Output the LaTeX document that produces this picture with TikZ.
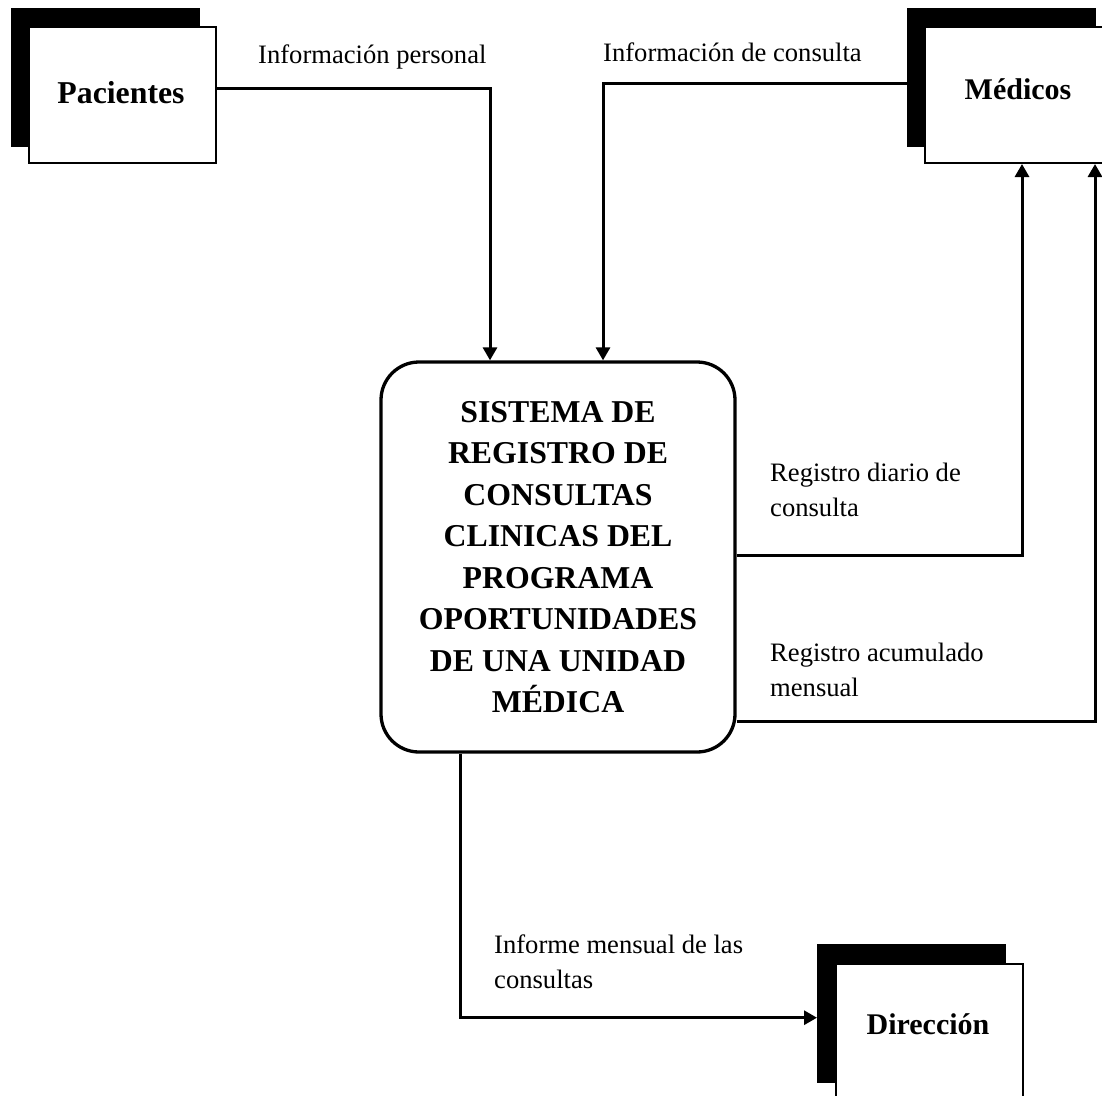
\documentclass[tikz,border=0pt]{standalone}
\usepackage{fontspec}
\setmainfont{Liberation Serif}
\usetikzlibrary{arrows.meta,calc}
\begin{document}
\begin{tikzpicture}[x=1pt,y=-1pt,
  shadowbox/.style={fill=black,draw=none,minimum width=189pt,minimum height=139pt,inner sep=0pt,anchor=north west},
  entity/.style={draw=black,fill=white,line width=2pt,minimum width=187pt,minimum height=136pt,inner sep=0pt,anchor=north west},
  enttext/.style={font=\fontsize{30}{36}\selectfont\bfseries,inner sep=0pt},
  process/.style={draw=black,fill=white,line width=3.3pt,rounded corners=38pt,minimum width=354pt,minimum height=390pt,inner sep=0pt,align=center,font=\fontsize{31.8}{41.5}\selectfont\bfseries},
  flow/.style={line width=3pt,-{Triangle[length=13pt,width=14pt]}},
  flowlabel/.style={font=\fontsize{26.6}{35}\selectfont,inner sep=0pt,align=left,anchor=west}
]
\useasboundingbox (0,0) rectangle (1102,1095);
\fill[white] (0,0) rectangle (1102,1095);

% Pacientes
\node[shadowbox] (pacS) at (11,8) {};
\node[entity] (pac) at (28,26) {};
\node[enttext,font=\fontsize{31.8}{36}\selectfont\bfseries] (pacT) at (121,93) {Pacientes};

% Medicos
\node[shadowbox] (medS) at (907,8) {};
\node[entity] (med) at (924,26) {};
\node[enttext] (medT) at (1018,89) {Médicos};

% Direccion
\node[shadowbox] (dirS) at (817,944) {};
\node[entity] (dir) at (835,963) {};
\node[enttext] (dirT) at (928,1024) {Dirección};

% Process
\node[process] (proc) at (558,557) {SISTEMA DE\\REGISTRO DE\\CONSULTAS\\CLINICAS DEL\\PROGRAMA\\OPORTUNIDADES\\DE UNA UNIDAD\\MÉDICA};

% Flows
\draw[flow] ($(pac.east)+(0,-7)$) -| ($(proc.north)+(-68,0)$);
\draw[flow] ($(medS.west)+(0,5.5)$) -| ($(proc.north)+(45,0)$);
\draw[flow] ($(proc.east)+(0,-2)$) -| ($(med.south)+(3.5,0)$);
\draw[flow] ($(proc.east)+(0,164)$) -| ($(med.south)+(76.5,0)$);
\draw[flow] ($(proc.south)+(-98,0)$) |- ($(dirS.west)+(0,4)$);

% Labels
\node[flowlabel] (l1) at (258,57) {Información personal};
\node[flowlabel] (l2) at (603,52) {Información de consulta};
\node[flowlabel] (l3) at (770,490) {Registro diario de\\consulta};
\node[flowlabel] (l4) at (770,670) {Registro acumulado\\mensual};
\node[flowlabel] (l5) at (494,962) {Informe mensual de las\\consultas};
\end{tikzpicture}
\end{document}
